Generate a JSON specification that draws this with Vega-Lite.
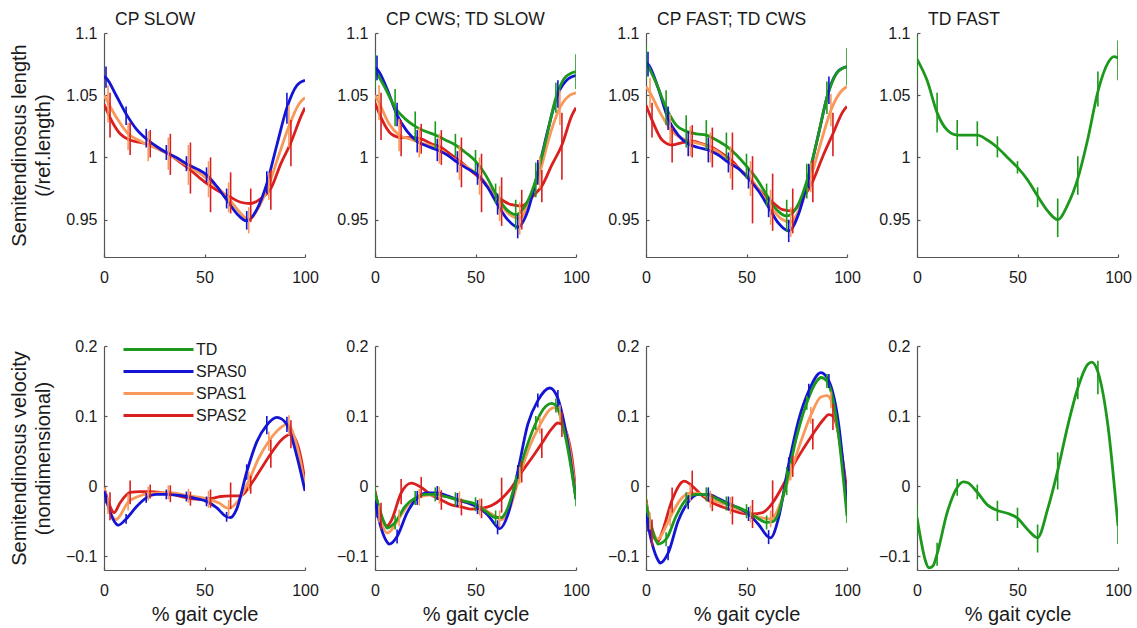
{
"$schema": "https://vega.github.io/schema/vega-lite/v6.json",
"padding": {"left": 9, "top": 10, "right": 5, "bottom": 5},
"datasets": {"d": [
{"p":"P1","s":"SPAS2","x":0,"y":1.043},{"p":"P1","s":"SPAS2","x":3,"y":1.032,"lo":1.016,"hi":1.052},{"p":"P1","s":"SPAS2","x":8,"y":1.019},{"p":"P1","s":"SPAS2","x":13,"y":1.014,"lo":1.002,"hi":1.028},{"p":"P1","s":"SPAS2","x":18,"y":1.012},{"p":"P1","s":"SPAS2","x":23,"y":1.010,"lo":1.000,"hi":1.022},{"p":"P1","s":"SPAS2","x":28,"y":1.006},{"p":"P1","s":"SPAS2","x":33,"y":1.002,"lo":0.986,"hi":1.019},{"p":"P1","s":"SPAS2","x":38,"y":0.996},{"p":"P1","s":"SPAS2","x":43,"y":0.990,"lo":0.971,"hi":1.012},{"p":"P1","s":"SPAS2","x":48,"y":0.983},{"p":"P1","s":"SPAS2","x":53,"y":0.977,"lo":0.956,"hi":1.000},{"p":"P1","s":"SPAS2","x":58,"y":0.972},{"p":"P1","s":"SPAS2","x":63,"y":0.968,"lo":0.955,"hi":0.988},{"p":"P1","s":"SPAS2","x":68,"y":0.964},{"p":"P1","s":"SPAS2","x":73,"y":0.963,"lo":0.948,"hi":0.975},{"p":"P1","s":"SPAS2","x":78,"y":0.967},{"p":"P1","s":"SPAS2","x":83,"y":0.975,"lo":0.958,"hi":0.990},{"p":"P1","s":"SPAS2","x":88,"y":0.995},{"p":"P1","s":"SPAS2","x":93,"y":1.012,"lo":0.993,"hi":1.030},{"p":"P1","s":"SPAS2","x":98,"y":1.033},{"p":"P1","s":"SPAS2","x":100,"y":1.040},
{"p":"P1","s":"SPAS1","x":0,"y":1.050},{"p":"P1","s":"SPAS1","x":2,"y":1.044,"lo":1.028,"hi":1.058},{"p":"P1","s":"SPAS1","x":7,"y":1.030},{"p":"P1","s":"SPAS1","x":12,"y":1.019,"lo":1.006,"hi":1.028},{"p":"P1","s":"SPAS1","x":17,"y":1.014},{"p":"P1","s":"SPAS1","x":22,"y":1.010,"lo":0.997,"hi":1.021},{"p":"P1","s":"SPAS1","x":27,"y":1.007},{"p":"P1","s":"SPAS1","x":32,"y":1.003,"lo":0.990,"hi":1.016},{"p":"P1","s":"SPAS1","x":37,"y":0.998},{"p":"P1","s":"SPAS1","x":42,"y":0.993,"lo":0.978,"hi":1.010},{"p":"P1","s":"SPAS1","x":47,"y":0.988},{"p":"P1","s":"SPAS1","x":52,"y":0.982,"lo":0.968,"hi":0.997},{"p":"P1","s":"SPAS1","x":57,"y":0.975},{"p":"P1","s":"SPAS1","x":62,"y":0.967,"lo":0.956,"hi":0.980},{"p":"P1","s":"SPAS1","x":67,"y":0.957},{"p":"P1","s":"SPAS1","x":72,"y":0.950,"lo":0.939,"hi":0.960},{"p":"P1","s":"SPAS1","x":77,"y":0.960},{"p":"P1","s":"SPAS1","x":82,"y":0.978,"lo":0.966,"hi":0.988},{"p":"P1","s":"SPAS1","x":87,"y":1.002},{"p":"P1","s":"SPAS1","x":92,"y":1.025,"lo":1.008,"hi":1.042},{"p":"P1","s":"SPAS1","x":97,"y":1.043},{"p":"P1","s":"SPAS1","x":100,"y":1.048},
{"p":"P1","s":"SPAS0","x":0,"y":1.065},{"p":"P1","s":"SPAS0","x":1,"y":1.064,"lo":1.056,"hi":1.073},{"p":"P1","s":"SPAS0","x":6,"y":1.050},{"p":"P1","s":"SPAS0","x":11,"y":1.035,"lo":1.026,"hi":1.041},{"p":"P1","s":"SPAS0","x":16,"y":1.023},{"p":"P1","s":"SPAS0","x":21,"y":1.015,"lo":1.008,"hi":1.023},{"p":"P1","s":"SPAS0","x":26,"y":1.009},{"p":"P1","s":"SPAS0","x":31,"y":1.004,"lo":0.998,"hi":1.010},{"p":"P1","s":"SPAS0","x":36,"y":1.000},{"p":"P1","s":"SPAS0","x":41,"y":0.995,"lo":0.989,"hi":1.001},{"p":"P1","s":"SPAS0","x":46,"y":0.991},{"p":"P1","s":"SPAS0","x":51,"y":0.986,"lo":0.980,"hi":0.992},{"p":"P1","s":"SPAS0","x":56,"y":0.977},{"p":"P1","s":"SPAS0","x":61,"y":0.966,"lo":0.959,"hi":0.975},{"p":"P1","s":"SPAS0","x":66,"y":0.955},{"p":"P1","s":"SPAS0","x":71,"y":0.949,"lo":0.942,"hi":0.957},{"p":"P1","s":"SPAS0","x":76,"y":0.958},{"p":"P1","s":"SPAS0","x":81,"y":0.979,"lo":0.971,"hi":0.989},{"p":"P1","s":"SPAS0","x":86,"y":1.010},{"p":"P1","s":"SPAS0","x":91,"y":1.040,"lo":1.027,"hi":1.052},{"p":"P1","s":"SPAS0","x":96,"y":1.058},{"p":"P1","s":"SPAS0","x":100,"y":1.062},
{"p":"P2","s":"SPAS2","x":0,"y":1.044},{"p":"P2","s":"SPAS2","x":3,"y":1.032,"lo":1.014,"hi":1.052},{"p":"P2","s":"SPAS2","x":8,"y":1.019},{"p":"P2","s":"SPAS2","x":13,"y":1.016,"lo":1.001,"hi":1.030},{"p":"P2","s":"SPAS2","x":18,"y":1.016},{"p":"P2","s":"SPAS2","x":23,"y":1.015,"lo":1.003,"hi":1.027},{"p":"P2","s":"SPAS2","x":28,"y":1.011},{"p":"P2","s":"SPAS2","x":33,"y":1.008,"lo":0.994,"hi":1.022},{"p":"P2","s":"SPAS2","x":38,"y":1.002},{"p":"P2","s":"SPAS2","x":43,"y":0.996,"lo":0.976,"hi":1.016},{"p":"P2","s":"SPAS2","x":48,"y":0.989},{"p":"P2","s":"SPAS2","x":53,"y":0.982,"lo":0.956,"hi":1.003},{"p":"P2","s":"SPAS2","x":58,"y":0.973},{"p":"P2","s":"SPAS2","x":63,"y":0.966,"lo":0.945,"hi":0.984},{"p":"P2","s":"SPAS2","x":68,"y":0.962},{"p":"P2","s":"SPAS2","x":73,"y":0.961,"lo":0.942,"hi":0.974},{"p":"P2","s":"SPAS2","x":78,"y":0.968},{"p":"P2","s":"SPAS2","x":83,"y":0.977,"lo":0.964,"hi":0.990},{"p":"P2","s":"SPAS2","x":88,"y":0.994},{"p":"P2","s":"SPAS2","x":93,"y":1.010,"lo":0.982,"hi":1.036},{"p":"P2","s":"SPAS2","x":98,"y":1.034},{"p":"P2","s":"SPAS2","x":100,"y":1.040},
{"p":"P2","s":"SPAS1","x":0,"y":1.050},{"p":"P2","s":"SPAS1","x":2,"y":1.044,"lo":1.030,"hi":1.058},{"p":"P2","s":"SPAS1","x":7,"y":1.027},{"p":"P2","s":"SPAS1","x":12,"y":1.018,"lo":1.005,"hi":1.031},{"p":"P2","s":"SPAS1","x":17,"y":1.015},{"p":"P2","s":"SPAS1","x":22,"y":1.012,"lo":1.000,"hi":1.024},{"p":"P2","s":"SPAS1","x":27,"y":1.010},{"p":"P2","s":"SPAS1","x":32,"y":1.007,"lo":0.995,"hi":1.019},{"p":"P2","s":"SPAS1","x":37,"y":1.001},{"p":"P2","s":"SPAS1","x":42,"y":0.996,"lo":0.982,"hi":1.010},{"p":"P2","s":"SPAS1","x":47,"y":0.991},{"p":"P2","s":"SPAS1","x":52,"y":0.985,"lo":0.970,"hi":1.000},{"p":"P2","s":"SPAS1","x":57,"y":0.975},{"p":"P2","s":"SPAS1","x":62,"y":0.963,"lo":0.949,"hi":0.977},{"p":"P2","s":"SPAS1","x":67,"y":0.954},{"p":"P2","s":"SPAS1","x":72,"y":0.951,"lo":0.938,"hi":0.964},{"p":"P2","s":"SPAS1","x":77,"y":0.966},{"p":"P2","s":"SPAS1","x":82,"y":0.988,"lo":0.975,"hi":1.001},{"p":"P2","s":"SPAS1","x":87,"y":1.018},{"p":"P2","s":"SPAS1","x":92,"y":1.040,"lo":1.026,"hi":1.054},{"p":"P2","s":"SPAS1","x":97,"y":1.050},{"p":"P2","s":"SPAS1","x":100,"y":1.052},
{"p":"P2","s":"SPAS0","x":0,"y":1.072},{"p":"P2","s":"SPAS0","x":1,"y":1.071,"lo":1.062,"hi":1.082},{"p":"P2","s":"SPAS0","x":6,"y":1.055},{"p":"P2","s":"SPAS0","x":11,"y":1.034,"lo":1.025,"hi":1.044},{"p":"P2","s":"SPAS0","x":16,"y":1.021},{"p":"P2","s":"SPAS0","x":21,"y":1.013,"lo":1.004,"hi":1.022},{"p":"P2","s":"SPAS0","x":26,"y":1.009},{"p":"P2","s":"SPAS0","x":31,"y":1.006,"lo":0.997,"hi":1.015},{"p":"P2","s":"SPAS0","x":36,"y":1.002},{"p":"P2","s":"SPAS0","x":41,"y":0.996,"lo":0.988,"hi":1.005},{"p":"P2","s":"SPAS0","x":46,"y":0.991},{"p":"P2","s":"SPAS0","x":51,"y":0.986,"lo":0.978,"hi":0.995},{"p":"P2","s":"SPAS0","x":56,"y":0.976},{"p":"P2","s":"SPAS0","x":61,"y":0.962,"lo":0.954,"hi":0.971},{"p":"P2","s":"SPAS0","x":66,"y":0.950},{"p":"P2","s":"SPAS0","x":71,"y":0.944,"lo":0.935,"hi":0.954},{"p":"P2","s":"SPAS0","x":76,"y":0.957},{"p":"P2","s":"SPAS0","x":81,"y":0.988,"lo":0.978,"hi":0.998},{"p":"P2","s":"SPAS0","x":86,"y":1.022},{"p":"P2","s":"SPAS0","x":91,"y":1.051,"lo":1.040,"hi":1.062},{"p":"P2","s":"SPAS0","x":96,"y":1.063},{"p":"P2","s":"SPAS0","x":100,"y":1.066},
{"p":"P2","s":"TD","x":0,"y":1.070,"lo":1.056,"hi":1.084},{"p":"P2","s":"TD","x":5,"y":1.056},{"p":"P2","s":"TD","x":10,"y":1.040,"lo":1.025,"hi":1.055},{"p":"P2","s":"TD","x":15,"y":1.031},{"p":"P2","s":"TD","x":20,"y":1.025,"lo":1.013,"hi":1.037},{"p":"P2","s":"TD","x":25,"y":1.021},{"p":"P2","s":"TD","x":30,"y":1.018,"lo":1.007,"hi":1.029},{"p":"P2","s":"TD","x":35,"y":1.014},{"p":"P2","s":"TD","x":40,"y":1.010,"lo":1.001,"hi":1.019},{"p":"P2","s":"TD","x":45,"y":1.004},{"p":"P2","s":"TD","x":50,"y":0.997,"lo":0.988,"hi":1.006},{"p":"P2","s":"TD","x":55,"y":0.986},{"p":"P2","s":"TD","x":60,"y":0.971,"lo":0.963,"hi":0.979},{"p":"P2","s":"TD","x":65,"y":0.959},{"p":"P2","s":"TD","x":70,"y":0.954,"lo":0.942,"hi":0.966},{"p":"P2","s":"TD","x":75,"y":0.962},{"p":"P2","s":"TD","x":80,"y":0.982,"lo":0.968,"hi":0.996},{"p":"P2","s":"TD","x":85,"y":1.014},{"p":"P2","s":"TD","x":90,"y":1.048,"lo":1.036,"hi":1.060},{"p":"P2","s":"TD","x":95,"y":1.065},{"p":"P2","s":"TD","x":100,"y":1.069,"lo":1.055,"hi":1.083},
{"p":"P3","s":"SPAS2","x":0,"y":1.042},{"p":"P3","s":"SPAS2","x":3,"y":1.030,"lo":1.016,"hi":1.044},{"p":"P3","s":"SPAS2","x":8,"y":1.014},{"p":"P3","s":"SPAS2","x":13,"y":1.010,"lo":0.996,"hi":1.024},{"p":"P3","s":"SPAS2","x":18,"y":1.012},{"p":"P3","s":"SPAS2","x":23,"y":1.013,"lo":1.000,"hi":1.026},{"p":"P3","s":"SPAS2","x":28,"y":1.011},{"p":"P3","s":"SPAS2","x":33,"y":1.008,"lo":0.992,"hi":1.024},{"p":"P3","s":"SPAS2","x":38,"y":1.003},{"p":"P3","s":"SPAS2","x":43,"y":0.997,"lo":0.974,"hi":1.020},{"p":"P3","s":"SPAS2","x":48,"y":0.988},{"p":"P3","s":"SPAS2","x":53,"y":0.980,"lo":0.947,"hi":1.001},{"p":"P3","s":"SPAS2","x":58,"y":0.971},{"p":"P3","s":"SPAS2","x":63,"y":0.964,"lo":0.941,"hi":0.987},{"p":"P3","s":"SPAS2","x":68,"y":0.958},{"p":"P3","s":"SPAS2","x":73,"y":0.957,"lo":0.939,"hi":0.975},{"p":"P3","s":"SPAS2","x":78,"y":0.967},{"p":"P3","s":"SPAS2","x":83,"y":0.981,"lo":0.964,"hi":0.998},{"p":"P3","s":"SPAS2","x":88,"y":1.001},{"p":"P3","s":"SPAS2","x":93,"y":1.019,"lo":1.001,"hi":1.036},{"p":"P3","s":"SPAS2","x":98,"y":1.037},{"p":"P3","s":"SPAS2","x":100,"y":1.041},
{"p":"P3","s":"SPAS1","x":0,"y":1.057},{"p":"P3","s":"SPAS1","x":2,"y":1.052,"lo":1.040,"hi":1.064},{"p":"P3","s":"SPAS1","x":7,"y":1.036},{"p":"P3","s":"SPAS1","x":12,"y":1.023,"lo":1.011,"hi":1.035},{"p":"P3","s":"SPAS1","x":17,"y":1.016},{"p":"P3","s":"SPAS1","x":22,"y":1.013,"lo":1.001,"hi":1.025},{"p":"P3","s":"SPAS1","x":27,"y":1.011},{"p":"P3","s":"SPAS1","x":32,"y":1.008,"lo":0.996,"hi":1.020},{"p":"P3","s":"SPAS1","x":37,"y":1.003},{"p":"P3","s":"SPAS1","x":42,"y":0.996,"lo":0.983,"hi":1.009},{"p":"P3","s":"SPAS1","x":47,"y":0.990},{"p":"P3","s":"SPAS1","x":52,"y":0.983,"lo":0.969,"hi":0.997},{"p":"P3","s":"SPAS1","x":57,"y":0.972},{"p":"P3","s":"SPAS1","x":62,"y":0.960,"lo":0.946,"hi":0.974},{"p":"P3","s":"SPAS1","x":67,"y":0.951},{"p":"P3","s":"SPAS1","x":72,"y":0.948,"lo":0.936,"hi":0.960},{"p":"P3","s":"SPAS1","x":77,"y":0.961},{"p":"P3","s":"SPAS1","x":82,"y":0.984,"lo":0.972,"hi":0.996},{"p":"P3","s":"SPAS1","x":87,"y":1.012},{"p":"P3","s":"SPAS1","x":92,"y":1.038,"lo":1.025,"hi":1.051},{"p":"P3","s":"SPAS1","x":97,"y":1.053},{"p":"P3","s":"SPAS1","x":100,"y":1.057},
{"p":"P3","s":"SPAS0","x":0,"y":1.076},{"p":"P3","s":"SPAS0","x":1,"y":1.075,"lo":1.065,"hi":1.085},{"p":"P3","s":"SPAS0","x":6,"y":1.056},{"p":"P3","s":"SPAS0","x":11,"y":1.031,"lo":1.022,"hi":1.041},{"p":"P3","s":"SPAS0","x":16,"y":1.018},{"p":"P3","s":"SPAS0","x":21,"y":1.011,"lo":1.001,"hi":1.021},{"p":"P3","s":"SPAS0","x":26,"y":1.008},{"p":"P3","s":"SPAS0","x":31,"y":1.006,"lo":0.996,"hi":1.016},{"p":"P3","s":"SPAS0","x":36,"y":1.002},{"p":"P3","s":"SPAS0","x":41,"y":0.996,"lo":0.988,"hi":1.004},{"p":"P3","s":"SPAS0","x":46,"y":0.991},{"p":"P3","s":"SPAS0","x":51,"y":0.983,"lo":0.975,"hi":0.991},{"p":"P3","s":"SPAS0","x":56,"y":0.973},{"p":"P3","s":"SPAS0","x":61,"y":0.960,"lo":0.952,"hi":0.968},{"p":"P3","s":"SPAS0","x":66,"y":0.947},{"p":"P3","s":"SPAS0","x":71,"y":0.941,"lo":0.932,"hi":0.950},{"p":"P3","s":"SPAS0","x":76,"y":0.955},{"p":"P3","s":"SPAS0","x":81,"y":0.985,"lo":0.975,"hi":0.995},{"p":"P3","s":"SPAS0","x":86,"y":1.020},{"p":"P3","s":"SPAS0","x":91,"y":1.054,"lo":1.043,"hi":1.065},{"p":"P3","s":"SPAS0","x":96,"y":1.070},{"p":"P3","s":"SPAS0","x":100,"y":1.073},
{"p":"P3","s":"TD","x":0,"y":1.077,"lo":1.063,"hi":1.091},{"p":"P3","s":"TD","x":5,"y":1.060},{"p":"P3","s":"TD","x":10,"y":1.040,"lo":1.026,"hi":1.054},{"p":"P3","s":"TD","x":15,"y":1.026},{"p":"P3","s":"TD","x":20,"y":1.021,"lo":1.008,"hi":1.034},{"p":"P3","s":"TD","x":25,"y":1.019},{"p":"P3","s":"TD","x":30,"y":1.018,"lo":1.006,"hi":1.030},{"p":"P3","s":"TD","x":35,"y":1.014},{"p":"P3","s":"TD","x":40,"y":1.009,"lo":0.998,"hi":1.020},{"p":"P3","s":"TD","x":45,"y":1.002},{"p":"P3","s":"TD","x":50,"y":0.993,"lo":0.983,"hi":1.003},{"p":"P3","s":"TD","x":55,"y":0.983},{"p":"P3","s":"TD","x":60,"y":0.970,"lo":0.961,"hi":0.979},{"p":"P3","s":"TD","x":65,"y":0.958},{"p":"P3","s":"TD","x":70,"y":0.953,"lo":0.940,"hi":0.966},{"p":"P3","s":"TD","x":75,"y":0.960},{"p":"P3","s":"TD","x":80,"y":0.981,"lo":0.967,"hi":0.995},{"p":"P3","s":"TD","x":85,"y":1.013},{"p":"P3","s":"TD","x":90,"y":1.048,"lo":1.035,"hi":1.061},{"p":"P3","s":"TD","x":95,"y":1.068},{"p":"P3","s":"TD","x":100,"y":1.073,"lo":1.058,"hi":1.088},
{"p":"P4","s":"TD","x":0,"y":1.079,"lo":1.062,"hi":1.097},{"p":"P4","s":"TD","x":5,"y":1.062},{"p":"P4","s":"TD","x":10,"y":1.036,"lo":1.020,"hi":1.052},{"p":"P4","s":"TD","x":15,"y":1.022},{"p":"P4","s":"TD","x":20,"y":1.018,"lo":1.006,"hi":1.030},{"p":"P4","s":"TD","x":25,"y":1.018},{"p":"P4","s":"TD","x":30,"y":1.018,"lo":1.009,"hi":1.029},{"p":"P4","s":"TD","x":35,"y":1.014},{"p":"P4","s":"TD","x":40,"y":1.008,"lo":1.000,"hi":1.017},{"p":"P4","s":"TD","x":45,"y":1.000},{"p":"P4","s":"TD","x":50,"y":0.992,"lo":0.987,"hi":0.997},{"p":"P4","s":"TD","x":55,"y":0.982},{"p":"P4","s":"TD","x":60,"y":0.969,"lo":0.960,"hi":0.976},{"p":"P4","s":"TD","x":65,"y":0.957},{"p":"P4","s":"TD","x":70,"y":0.950,"lo":0.936,"hi":0.967},{"p":"P4","s":"TD","x":75,"y":0.962},{"p":"P4","s":"TD","x":80,"y":0.983,"lo":0.970,"hi":1.001},{"p":"P4","s":"TD","x":85,"y":1.015},{"p":"P4","s":"TD","x":90,"y":1.053,"lo":1.041,"hi":1.069},{"p":"P4","s":"TD","x":95,"y":1.076},{"p":"P4","s":"TD","x":98,"y":1.081},{"p":"P4","s":"TD","x":100,"y":1.080,"lo":1.062,"hi":1.094},
{"p":"P5","s":"SPAS2","x":0,"y":-0.002},{"p":"P5","s":"SPAS2","x":3,"y":-0.029,"lo":-0.049,"hi":-0.009},{"p":"P5","s":"SPAS2","x":5,"y":-0.038},{"p":"P5","s":"SPAS2","x":8,"y":-0.024},{"p":"P5","s":"SPAS2","x":13,"y":-0.009,"lo":-0.026,"hi":0.008},{"p":"P5","s":"SPAS2","x":18,"y":-0.008},{"p":"P5","s":"SPAS2","x":23,"y":-0.008,"lo":-0.018,"hi":0.002},{"p":"P5","s":"SPAS2","x":28,"y":-0.009},{"p":"P5","s":"SPAS2","x":33,"y":-0.011,"lo":-0.023,"hi":0.001},{"p":"P5","s":"SPAS2","x":38,"y":-0.015},{"p":"P5","s":"SPAS2","x":43,"y":-0.018,"lo":-0.028,"hi":-0.008},{"p":"P5","s":"SPAS2","x":48,"y":-0.019},{"p":"P5","s":"SPAS2","x":53,"y":-0.018,"lo":-0.031,"hi":-0.005},{"p":"P5","s":"SPAS2","x":58,"y":-0.015},{"p":"P5","s":"SPAS2","x":63,"y":-0.014,"lo":-0.033,"hi":0.005},{"p":"P5","s":"SPAS2","x":68,"y":-0.014},{"p":"P5","s":"SPAS2","x":73,"y":0.002,"lo":-0.011,"hi":0.015},{"p":"P5","s":"SPAS2","x":78,"y":0.024},{"p":"P5","s":"SPAS2","x":83,"y":0.046,"lo":0.026,"hi":0.066},{"p":"P5","s":"SPAS2","x":88,"y":0.065},{"p":"P5","s":"SPAS2","x":93,"y":0.074,"lo":0.054,"hi":0.094},{"p":"P5","s":"SPAS2","x":98,"y":0.040},{"p":"P5","s":"SPAS2","x":100,"y":0.007},
{"p":"P5","s":"SPAS1","x":0,"y":-0.002},{"p":"P5","s":"SPAS1","x":2,"y":-0.028,"lo":-0.040,"hi":-0.016},{"p":"P5","s":"SPAS1","x":6,"y":-0.048},{"p":"P5","s":"SPAS1","x":7,"y":-0.046},{"p":"P5","s":"SPAS1","x":12,"y":-0.023,"lo":-0.035,"hi":-0.011},{"p":"P5","s":"SPAS1","x":17,"y":-0.015},{"p":"P5","s":"SPAS1","x":22,"y":-0.011,"lo":-0.021,"hi":-0.001},{"p":"P5","s":"SPAS1","x":27,"y":-0.010},{"p":"P5","s":"SPAS1","x":32,"y":-0.009,"lo":-0.019,"hi":0.001},{"p":"P5","s":"SPAS1","x":37,"y":-0.011},{"p":"P5","s":"SPAS1","x":42,"y":-0.014,"lo":-0.024,"hi":-0.004},{"p":"P5","s":"SPAS1","x":47,"y":-0.016},{"p":"P5","s":"SPAS1","x":52,"y":-0.019,"lo":-0.031,"hi":-0.007},{"p":"P5","s":"SPAS1","x":57,"y":-0.024},{"p":"P5","s":"SPAS1","x":62,"y":-0.032,"lo":-0.044,"hi":-0.020},{"p":"P5","s":"SPAS1","x":67,"y":-0.020},{"p":"P5","s":"SPAS1","x":72,"y":0.007,"lo":-0.007,"hi":0.021},{"p":"P5","s":"SPAS1","x":77,"y":0.040},{"p":"P5","s":"SPAS1","x":82,"y":0.064,"lo":0.050,"hi":0.078},{"p":"P5","s":"SPAS1","x":87,"y":0.081},{"p":"P5","s":"SPAS1","x":91,"y":0.088},{"p":"P5","s":"SPAS1","x":92,"y":0.087,"lo":0.073,"hi":0.101},{"p":"P5","s":"SPAS1","x":97,"y":0.045},{"p":"P5","s":"SPAS1","x":100,"y":0.000},
{"p":"P5","s":"SPAS0","x":0,"y":-0.007},{"p":"P5","s":"SPAS0","x":1,"y":-0.018,"lo":-0.025,"hi":-0.011},{"p":"P5","s":"SPAS0","x":6,"y":-0.054},{"p":"P5","s":"SPAS0","x":7,"y":-0.056},{"p":"P5","s":"SPAS0","x":11,"y":-0.047,"lo":-0.054,"hi":-0.040},{"p":"P5","s":"SPAS0","x":16,"y":-0.030},{"p":"P5","s":"SPAS0","x":21,"y":-0.017,"lo":-0.024,"hi":-0.010},{"p":"P5","s":"SPAS0","x":26,"y":-0.012},{"p":"P5","s":"SPAS0","x":31,"y":-0.012,"lo":-0.019,"hi":-0.005},{"p":"P5","s":"SPAS0","x":36,"y":-0.013},{"p":"P5","s":"SPAS0","x":41,"y":-0.015,"lo":-0.022,"hi":-0.008},{"p":"P5","s":"SPAS0","x":46,"y":-0.018},{"p":"P5","s":"SPAS0","x":51,"y":-0.022,"lo":-0.029,"hi":-0.015},{"p":"P5","s":"SPAS0","x":56,"y":-0.031},{"p":"P5","s":"SPAS0","x":61,"y":-0.044,"lo":-0.051,"hi":-0.037},{"p":"P5","s":"SPAS0","x":63,"y":-0.045},{"p":"P5","s":"SPAS0","x":66,"y":-0.033},{"p":"P5","s":"SPAS0","x":71,"y":0.020,"lo":0.009,"hi":0.031},{"p":"P5","s":"SPAS0","x":76,"y":0.063},{"p":"P5","s":"SPAS0","x":81,"y":0.087,"lo":0.074,"hi":0.100},{"p":"P5","s":"SPAS0","x":86,"y":0.098},{"p":"P5","s":"SPAS0","x":91,"y":0.088,"lo":0.077,"hi":0.099},{"p":"P5","s":"SPAS0","x":96,"y":0.042},{"p":"P5","s":"SPAS0","x":100,"y":-0.007},
{"p":"P6","s":"SPAS2","x":0,"y":-0.007},{"p":"P6","s":"SPAS2","x":3,"y":-0.043,"lo":-0.062,"hi":-0.024},{"p":"P6","s":"SPAS2","x":6,"y":-0.057},{"p":"P6","s":"SPAS2","x":8,"y":-0.050},{"p":"P6","s":"SPAS2","x":13,"y":-0.010,"lo":-0.026,"hi":0.010},{"p":"P6","s":"SPAS2","x":18,"y":0.004},{"p":"P6","s":"SPAS2","x":23,"y":-0.002,"lo":-0.017,"hi":0.013},{"p":"P6","s":"SPAS2","x":28,"y":-0.013},{"p":"P6","s":"SPAS2","x":33,"y":-0.020,"lo":-0.034,"hi":-0.006},{"p":"P6","s":"SPAS2","x":38,"y":-0.027},{"p":"P6","s":"SPAS2","x":43,"y":-0.030,"lo":-0.042,"hi":-0.018},{"p":"P6","s":"SPAS2","x":48,"y":-0.033},{"p":"P6","s":"SPAS2","x":53,"y":-0.032,"lo":-0.046,"hi":-0.018},{"p":"P6","s":"SPAS2","x":58,"y":-0.028},{"p":"P6","s":"SPAS2","x":63,"y":-0.018,"lo":-0.038,"hi":0.012},{"p":"P6","s":"SPAS2","x":68,"y":-0.002},{"p":"P6","s":"SPAS2","x":73,"y":0.020,"lo":0.005,"hi":0.035},{"p":"P6","s":"SPAS2","x":78,"y":0.040},{"p":"P6","s":"SPAS2","x":83,"y":0.061,"lo":0.040,"hi":0.082},{"p":"P6","s":"SPAS2","x":88,"y":0.082},{"p":"P6","s":"SPAS2","x":91,"y":0.090},{"p":"P6","s":"SPAS2","x":93,"y":0.088,"lo":0.070,"hi":0.106},{"p":"P6","s":"SPAS2","x":98,"y":0.040},{"p":"P6","s":"SPAS2","x":100,"y":-0.014},
{"p":"P6","s":"SPAS1","x":0,"y":-0.014},{"p":"P6","s":"SPAS1","x":2,"y":-0.040,"lo":-0.052,"hi":-0.028},{"p":"P6","s":"SPAS1","x":6,"y":-0.067},{"p":"P6","s":"SPAS1","x":7,"y":-0.066},{"p":"P6","s":"SPAS1","x":12,"y":-0.046,"lo":-0.058,"hi":-0.034},{"p":"P6","s":"SPAS1","x":17,"y":-0.025},{"p":"P6","s":"SPAS1","x":22,"y":-0.016,"lo":-0.028,"hi":-0.004},{"p":"P6","s":"SPAS1","x":27,"y":-0.013},{"p":"P6","s":"SPAS1","x":32,"y":-0.013,"lo":-0.025,"hi":-0.001},{"p":"P6","s":"SPAS1","x":37,"y":-0.016},{"p":"P6","s":"SPAS1","x":42,"y":-0.020,"lo":-0.032,"hi":-0.008},{"p":"P6","s":"SPAS1","x":47,"y":-0.025},{"p":"P6","s":"SPAS1","x":52,"y":-0.030,"lo":-0.042,"hi":-0.018},{"p":"P6","s":"SPAS1","x":57,"y":-0.038},{"p":"P6","s":"SPAS1","x":62,"y":-0.047,"lo":-0.059,"hi":-0.035},{"p":"P6","s":"SPAS1","x":63,"y":-0.048},{"p":"P6","s":"SPAS1","x":67,"y":-0.033},{"p":"P6","s":"SPAS1","x":72,"y":0.015,"lo":0.003,"hi":0.027},{"p":"P6","s":"SPAS1","x":77,"y":0.057},{"p":"P6","s":"SPAS1","x":82,"y":0.087,"lo":0.075,"hi":0.099},{"p":"P6","s":"SPAS1","x":87,"y":0.109},{"p":"P6","s":"SPAS1","x":89,"y":0.112},{"p":"P6","s":"SPAS1","x":92,"y":0.104,"lo":0.092,"hi":0.116},{"p":"P6","s":"SPAS1","x":97,"y":0.050},{"p":"P6","s":"SPAS1","x":100,"y":-0.014},
{"p":"P6","s":"SPAS0","x":0,"y":-0.019},{"p":"P6","s":"SPAS0","x":1,"y":-0.035,"lo":-0.045,"hi":-0.025},{"p":"P6","s":"SPAS0","x":6,"y":-0.080},{"p":"P6","s":"SPAS0","x":7,"y":-0.083},{"p":"P6","s":"SPAS0","x":11,"y":-0.072,"lo":-0.082,"hi":-0.062},{"p":"P6","s":"SPAS0","x":16,"y":-0.038},{"p":"P6","s":"SPAS0","x":21,"y":-0.017,"lo":-0.027,"hi":-0.007},{"p":"P6","s":"SPAS0","x":26,"y":-0.010},{"p":"P6","s":"SPAS0","x":31,"y":-0.010,"lo":-0.020,"hi":0.000},{"p":"P6","s":"SPAS0","x":36,"y":-0.014},{"p":"P6","s":"SPAS0","x":41,"y":-0.020,"lo":-0.030,"hi":-0.010},{"p":"P6","s":"SPAS0","x":46,"y":-0.024},{"p":"P6","s":"SPAS0","x":51,"y":-0.030,"lo":-0.040,"hi":-0.020},{"p":"P6","s":"SPAS0","x":56,"y":-0.041},{"p":"P6","s":"SPAS0","x":61,"y":-0.059,"lo":-0.069,"hi":-0.049},{"p":"P6","s":"SPAS0","x":62,"y":-0.061},{"p":"P6","s":"SPAS0","x":66,"y":-0.042},{"p":"P6","s":"SPAS0","x":71,"y":0.020,"lo":0.010,"hi":0.030},{"p":"P6","s":"SPAS0","x":76,"y":0.088},{"p":"P6","s":"SPAS0","x":81,"y":0.122,"lo":0.112,"hi":0.132},{"p":"P6","s":"SPAS0","x":87,"y":0.140},{"p":"P6","s":"SPAS0","x":91,"y":0.125,"lo":0.113,"hi":0.137},{"p":"P6","s":"SPAS0","x":96,"y":0.060},{"p":"P6","s":"SPAS0","x":100,"y":-0.019},
{"p":"P6","s":"TD","x":0,"y":-0.010,"lo":-0.020,"hi":0.000},{"p":"P6","s":"TD","x":5,"y":-0.055},{"p":"P6","s":"TD","x":6,"y":-0.060},{"p":"P6","s":"TD","x":10,"y":-0.052,"lo":-0.062,"hi":-0.042},{"p":"P6","s":"TD","x":15,"y":-0.029},{"p":"P6","s":"TD","x":20,"y":-0.017,"lo":-0.027,"hi":-0.007},{"p":"P6","s":"TD","x":25,"y":-0.012},{"p":"P6","s":"TD","x":30,"y":-0.012,"lo":-0.022,"hi":-0.002},{"p":"P6","s":"TD","x":35,"y":-0.015},{"p":"P6","s":"TD","x":40,"y":-0.019,"lo":-0.029,"hi":-0.009},{"p":"P6","s":"TD","x":45,"y":-0.022},{"p":"P6","s":"TD","x":50,"y":-0.026,"lo":-0.036,"hi":-0.016},{"p":"P6","s":"TD","x":55,"y":-0.036},{"p":"P6","s":"TD","x":60,"y":-0.045,"lo":-0.055,"hi":-0.035},{"p":"P6","s":"TD","x":63,"y":-0.045},{"p":"P6","s":"TD","x":65,"y":-0.038},{"p":"P6","s":"TD","x":70,"y":0.005,"lo":-0.005,"hi":0.015},{"p":"P6","s":"TD","x":75,"y":0.052},{"p":"P6","s":"TD","x":80,"y":0.090,"lo":0.080,"hi":0.100},{"p":"P6","s":"TD","x":85,"y":0.114},{"p":"P6","s":"TD","x":88,"y":0.118},{"p":"P6","s":"TD","x":90,"y":0.115,"lo":0.105,"hi":0.125},{"p":"P6","s":"TD","x":95,"y":0.067},{"p":"P6","s":"TD","x":100,"y":-0.019,"lo":-0.029,"hi":-0.009},
{"p":"P7","s":"SPAS2","x":0,"y":-0.019},{"p":"P7","s":"SPAS2","x":3,"y":-0.067,"lo":-0.086,"hi":-0.048},{"p":"P7","s":"SPAS2","x":6,"y":-0.079},{"p":"P7","s":"SPAS2","x":8,"y":-0.066},{"p":"P7","s":"SPAS2","x":13,"y":-0.020,"lo":-0.038,"hi":-0.002},{"p":"P7","s":"SPAS2","x":19,"y":0.007},{"p":"P7","s":"SPAS2","x":23,"y":0.000,"lo":-0.012,"hi":0.022},{"p":"P7","s":"SPAS2","x":28,"y":-0.014},{"p":"P7","s":"SPAS2","x":33,"y":-0.024,"lo":-0.036,"hi":-0.012},{"p":"P7","s":"SPAS2","x":38,"y":-0.030},{"p":"P7","s":"SPAS2","x":43,"y":-0.035,"lo":-0.055,"hi":-0.015},{"p":"P7","s":"SPAS2","x":48,"y":-0.039},{"p":"P7","s":"SPAS2","x":53,"y":-0.040,"lo":-0.060,"hi":-0.020},{"p":"P7","s":"SPAS2","x":58,"y":-0.038},{"p":"P7","s":"SPAS2","x":63,"y":-0.024,"lo":-0.044,"hi":0.008},{"p":"P7","s":"SPAS2","x":68,"y":0.000},{"p":"P7","s":"SPAS2","x":73,"y":0.028,"lo":0.013,"hi":0.043},{"p":"P7","s":"SPAS2","x":78,"y":0.052},{"p":"P7","s":"SPAS2","x":83,"y":0.074,"lo":0.052,"hi":0.096},{"p":"P7","s":"SPAS2","x":88,"y":0.094},{"p":"P7","s":"SPAS2","x":91,"y":0.102},{"p":"P7","s":"SPAS2","x":93,"y":0.100,"lo":0.080,"hi":0.118},{"p":"P7","s":"SPAS2","x":98,"y":0.035},{"p":"P7","s":"SPAS2","x":100,"y":-0.010},
{"p":"P7","s":"SPAS1","x":0,"y":-0.024},{"p":"P7","s":"SPAS1","x":2,"y":-0.050,"lo":-0.062,"hi":-0.038},{"p":"P7","s":"SPAS1","x":6,"y":-0.076},{"p":"P7","s":"SPAS1","x":7,"y":-0.073},{"p":"P7","s":"SPAS1","x":12,"y":-0.045,"lo":-0.057,"hi":-0.033},{"p":"P7","s":"SPAS1","x":17,"y":-0.020},{"p":"P7","s":"SPAS1","x":22,"y":-0.010,"lo":-0.022,"hi":0.002},{"p":"P7","s":"SPAS1","x":27,"y":-0.011},{"p":"P7","s":"SPAS1","x":32,"y":-0.019,"lo":-0.031,"hi":-0.007},{"p":"P7","s":"SPAS1","x":37,"y":-0.024},{"p":"P7","s":"SPAS1","x":42,"y":-0.028,"lo":-0.040,"hi":-0.016},{"p":"P7","s":"SPAS1","x":47,"y":-0.035},{"p":"P7","s":"SPAS1","x":52,"y":-0.040,"lo":-0.052,"hi":-0.028},{"p":"P7","s":"SPAS1","x":57,"y":-0.045},{"p":"P7","s":"SPAS1","x":62,"y":-0.047,"lo":-0.059,"hi":-0.035},{"p":"P7","s":"SPAS1","x":63,"y":-0.046},{"p":"P7","s":"SPAS1","x":67,"y":-0.024},{"p":"P7","s":"SPAS1","x":72,"y":0.020,"lo":0.008,"hi":0.032},{"p":"P7","s":"SPAS1","x":77,"y":0.063},{"p":"P7","s":"SPAS1","x":82,"y":0.101,"lo":0.089,"hi":0.113},{"p":"P7","s":"SPAS1","x":87,"y":0.127},{"p":"P7","s":"SPAS1","x":90,"y":0.129},{"p":"P7","s":"SPAS1","x":92,"y":0.123,"lo":0.111,"hi":0.135},{"p":"P7","s":"SPAS1","x":97,"y":0.050},{"p":"P7","s":"SPAS1","x":100,"y":-0.024},
{"p":"P7","s":"SPAS0","x":0,"y":-0.038},{"p":"P7","s":"SPAS0","x":1,"y":-0.055,"lo":-0.065,"hi":-0.045},{"p":"P7","s":"SPAS0","x":6,"y":-0.106},{"p":"P7","s":"SPAS0","x":7,"y":-0.110},{"p":"P7","s":"SPAS0","x":11,"y":-0.096,"lo":-0.106,"hi":-0.086},{"p":"P7","s":"SPAS0","x":16,"y":-0.050},{"p":"P7","s":"SPAS0","x":21,"y":-0.023,"lo":-0.033,"hi":-0.013},{"p":"P7","s":"SPAS0","x":26,"y":-0.012},{"p":"P7","s":"SPAS0","x":31,"y":-0.012,"lo":-0.022,"hi":-0.002},{"p":"P7","s":"SPAS0","x":36,"y":-0.018},{"p":"P7","s":"SPAS0","x":41,"y":-0.025,"lo":-0.035,"hi":-0.015},{"p":"P7","s":"SPAS0","x":46,"y":-0.031},{"p":"P7","s":"SPAS0","x":51,"y":-0.040,"lo":-0.050,"hi":-0.030},{"p":"P7","s":"SPAS0","x":56,"y":-0.055},{"p":"P7","s":"SPAS0","x":61,"y":-0.073,"lo":-0.083,"hi":-0.063},{"p":"P7","s":"SPAS0","x":62,"y":-0.074},{"p":"P7","s":"SPAS0","x":66,"y":-0.045},{"p":"P7","s":"SPAS0","x":71,"y":0.031,"lo":0.021,"hi":0.041},{"p":"P7","s":"SPAS0","x":76,"y":0.095},{"p":"P7","s":"SPAS0","x":81,"y":0.136,"lo":0.126,"hi":0.146},{"p":"P7","s":"SPAS0","x":87,"y":0.162},{"p":"P7","s":"SPAS0","x":91,"y":0.150,"lo":0.140,"hi":0.160},{"p":"P7","s":"SPAS0","x":96,"y":0.085},{"p":"P7","s":"SPAS0","x":100,"y":-0.029},
{"p":"P7","s":"TD","x":0,"y":-0.026,"lo":-0.036,"hi":-0.016},{"p":"P7","s":"TD","x":5,"y":-0.078},{"p":"P7","s":"TD","x":6,"y":-0.083},{"p":"P7","s":"TD","x":10,"y":-0.076,"lo":-0.086,"hi":-0.066},{"p":"P7","s":"TD","x":15,"y":-0.043},{"p":"P7","s":"TD","x":20,"y":-0.019,"lo":-0.029,"hi":-0.009},{"p":"P7","s":"TD","x":25,"y":-0.012},{"p":"P7","s":"TD","x":30,"y":-0.012,"lo":-0.022,"hi":-0.002},{"p":"P7","s":"TD","x":35,"y":-0.018},{"p":"P7","s":"TD","x":40,"y":-0.025,"lo":-0.035,"hi":-0.015},{"p":"P7","s":"TD","x":45,"y":-0.030},{"p":"P7","s":"TD","x":50,"y":-0.036,"lo":-0.046,"hi":-0.026},{"p":"P7","s":"TD","x":55,"y":-0.045},{"p":"P7","s":"TD","x":60,"y":-0.052,"lo":-0.062,"hi":-0.042},{"p":"P7","s":"TD","x":63,"y":-0.051},{"p":"P7","s":"TD","x":65,"y":-0.045},{"p":"P7","s":"TD","x":70,"y":0.007,"lo":-0.013,"hi":0.027},{"p":"P7","s":"TD","x":75,"y":0.071},{"p":"P7","s":"TD","x":80,"y":0.119,"lo":0.109,"hi":0.129},{"p":"P7","s":"TD","x":85,"y":0.150},{"p":"P7","s":"TD","x":87,"y":0.155},{"p":"P7","s":"TD","x":90,"y":0.150,"lo":0.140,"hi":0.160},{"p":"P7","s":"TD","x":95,"y":0.090},{"p":"P7","s":"TD","x":100,"y":-0.043,"lo":-0.053,"hi":-0.033},
{"p":"P8","s":"TD","x":0,"y":-0.045,"lo":-0.067,"hi":-0.028},{"p":"P8","s":"TD","x":2,"y":-0.078},{"p":"P8","s":"TD","x":4,"y":-0.105},{"p":"P8","s":"TD","x":6,"y":-0.117},{"p":"P8","s":"TD","x":8,"y":-0.114},{"p":"P8","s":"TD","x":10,"y":-0.097,"lo":-0.114,"hi":-0.081},{"p":"P8","s":"TD","x":15,"y":-0.038},{"p":"P8","s":"TD","x":20,"y":-0.002,"lo":-0.014,"hi":0.010},{"p":"P8","s":"TD","x":23,"y":0.006},{"p":"P8","s":"TD","x":25,"y":0.005},{"p":"P8","s":"TD","x":30,"y":-0.009,"lo":-0.019,"hi":0.002},{"p":"P8","s":"TD","x":35,"y":-0.027},{"p":"P8","s":"TD","x":40,"y":-0.035,"lo":-0.050,"hi":-0.021},{"p":"P8","s":"TD","x":45,"y":-0.039},{"p":"P8","s":"TD","x":50,"y":-0.046,"lo":-0.060,"hi":-0.031},{"p":"P8","s":"TD","x":55,"y":-0.062},{"p":"P8","s":"TD","x":60,"y":-0.074,"lo":-0.095,"hi":-0.055},{"p":"P8","s":"TD","x":65,"y":-0.033},{"p":"P8","s":"TD","x":70,"y":0.022,"lo":-0.005,"hi":0.048},{"p":"P8","s":"TD","x":75,"y":0.086},{"p":"P8","s":"TD","x":80,"y":0.140,"lo":0.124,"hi":0.155},{"p":"P8","s":"TD","x":85,"y":0.174},{"p":"P8","s":"TD","x":87,"y":0.177},{"p":"P8","s":"TD","x":90,"y":0.163,"lo":0.131,"hi":0.179},{"p":"P8","s":"TD","x":95,"y":0.086},{"p":"P8","s":"TD","x":100,"y":-0.057,"lo":-0.083,"hi":-0.038}
]},
"data": {"name": "d"},
"columns": 4,
"spacing": {"row": 89, "column": 70},
"bounds": "flush",
"concat": [
{"width":201,"height":224,"title":"CP SLOW","transform":[{"filter":"datum.p=='P1'"}],
 "encoding":{"x":{"field":"x","type":"quantitative","scale":{"domain":[0,100],"nice":false},"axis":{"values":[0,50,100],"title":null}},
  "color":{"field":"s","type":"nominal","scale":{"domain":["TD","SPAS0","SPAS1","SPAS2"],"range":["#1c991c","#1414d4","#f8985a","#da1f1f"]}}},
 "layer":[
  {"mark":{"type":"line","interpolate":"monotone","strokeWidth":2.8,"clip":true},"encoding":{"y":{"field":"y","type":"quantitative","scale":{"domain":[0.92,1.1],"nice":false},"axis":{"values":[0.95,1,1.05,1.1],"format":"~g","title":["Semitendinosus length","(/ref.length)"]}}}},
  {"transform":[{"filter":"isValid(datum.lo)"}],"mark":{"type":"rule","strokeWidth":1.6,"clip":true},"encoding":{"y":{"field":"lo","type":"quantitative","axis":{"values":[0.95,1,1.05,1.1],"format":"~g","title":["Semitendinosus length","(/ref.length)"]}},"y2":{"field":"hi"}}}
 ]},
{"width":201,"height":224,"title":"CP CWS; TD SLOW","transform":[{"filter":"datum.p=='P2'"}],
 "encoding":{"x":{"field":"x","type":"quantitative","scale":{"domain":[0,100],"nice":false},"axis":{"values":[0,50,100],"title":null}},
  "color":{"field":"s","type":"nominal","scale":{"domain":["TD","SPAS0","SPAS1","SPAS2"],"range":["#1c991c","#1414d4","#f8985a","#da1f1f"]}}},
 "layer":[
  {"mark":{"type":"line","interpolate":"monotone","strokeWidth":2.8,"clip":true},"encoding":{"y":{"field":"y","type":"quantitative","scale":{"domain":[0.92,1.1],"nice":false},"axis":{"values":[0.95,1,1.05,1.1],"format":"~g","title":null}}}},
  {"transform":[{"filter":"isValid(datum.lo)"}],"mark":{"type":"rule","strokeWidth":1.6,"clip":true},"encoding":{"y":{"field":"lo","type":"quantitative","axis":{"values":[0.95,1,1.05,1.1],"format":"~g","title":null}},"y2":{"field":"hi"}}}
 ]},
{"width":201,"height":224,"title":"CP FAST; TD CWS","transform":[{"filter":"datum.p=='P3'"}],
 "encoding":{"x":{"field":"x","type":"quantitative","scale":{"domain":[0,100],"nice":false},"axis":{"values":[0,50,100],"title":null}},
  "color":{"field":"s","type":"nominal","scale":{"domain":["TD","SPAS0","SPAS1","SPAS2"],"range":["#1c991c","#1414d4","#f8985a","#da1f1f"]}}},
 "layer":[
  {"mark":{"type":"line","interpolate":"monotone","strokeWidth":2.8,"clip":true},"encoding":{"y":{"field":"y","type":"quantitative","scale":{"domain":[0.92,1.1],"nice":false},"axis":{"values":[0.95,1,1.05,1.1],"format":"~g","title":null}}}},
  {"transform":[{"filter":"isValid(datum.lo)"}],"mark":{"type":"rule","strokeWidth":1.6,"clip":true},"encoding":{"y":{"field":"lo","type":"quantitative","axis":{"values":[0.95,1,1.05,1.1],"format":"~g","title":null}},"y2":{"field":"hi"}}}
 ]},
{"width":201,"height":224,"title":"TD FAST","transform":[{"filter":"datum.p=='P4'"}],
 "encoding":{"x":{"field":"x","type":"quantitative","scale":{"domain":[0,100],"nice":false},"axis":{"values":[0,50,100],"title":null}},
  "color":{"field":"s","type":"nominal","scale":{"domain":["TD","SPAS0","SPAS1","SPAS2"],"range":["#1c991c","#1414d4","#f8985a","#da1f1f"]}}},
 "layer":[
  {"mark":{"type":"line","interpolate":"monotone","strokeWidth":2.8,"clip":true},"encoding":{"y":{"field":"y","type":"quantitative","scale":{"domain":[0.92,1.1],"nice":false},"axis":{"values":[0.95,1,1.05,1.1],"format":"~g","title":null}}}},
  {"transform":[{"filter":"isValid(datum.lo)"}],"mark":{"type":"rule","strokeWidth":1.6,"clip":true},"encoding":{"y":{"field":"lo","type":"quantitative","axis":{"values":[0.95,1,1.05,1.1],"format":"~g","title":null}},"y2":{"field":"hi"}}}
 ]},
{"width":201,"height":224,"transform":[{"filter":"datum.p=='P5'"}],
 "encoding":{"x":{"field":"x","type":"quantitative","scale":{"domain":[0,100],"nice":false},"axis":{"values":[0,50,100],"title":"% gait cycle"}},
  "color":{"field":"s","type":"nominal","scale":{"domain":["TD","SPAS0","SPAS1","SPAS2"],"range":["#1c991c","#1414d4","#f8985a","#da1f1f"]}}},
 "layer":[
  {"mark":{"type":"line","interpolate":"monotone","strokeWidth":2.8,"clip":true},"encoding":{"y":{"field":"y","type":"quantitative","scale":{"domain":[-0.12,0.2],"nice":false},"axis":{"values":[-0.1,0,0.1,0.2],"format":"~g","title":["Semitendinosus velocity","(nondimensional)"]}}}},
  {"transform":[{"filter":"isValid(datum.lo)"}],"mark":{"type":"rule","strokeWidth":1.6,"clip":true},"encoding":{"y":{"field":"lo","type":"quantitative","axis":{"values":[-0.1,0,0.1,0.2],"format":"~g","title":["Semitendinosus velocity","(nondimensional)"]}},"y2":{"field":"hi"}}}
 ]},
{"width":201,"height":224,"transform":[{"filter":"datum.p=='P6'"}],
 "encoding":{"x":{"field":"x","type":"quantitative","scale":{"domain":[0,100],"nice":false},"axis":{"values":[0,50,100],"title":"% gait cycle"}},
  "color":{"field":"s","type":"nominal","scale":{"domain":["TD","SPAS0","SPAS1","SPAS2"],"range":["#1c991c","#1414d4","#f8985a","#da1f1f"]}}},
 "layer":[
  {"mark":{"type":"line","interpolate":"monotone","strokeWidth":2.8,"clip":true},"encoding":{"y":{"field":"y","type":"quantitative","scale":{"domain":[-0.12,0.2],"nice":false},"axis":{"values":[-0.1,0,0.1,0.2],"format":"~g","title":null}}}},
  {"transform":[{"filter":"isValid(datum.lo)"}],"mark":{"type":"rule","strokeWidth":1.6,"clip":true},"encoding":{"y":{"field":"lo","type":"quantitative","axis":{"values":[-0.1,0,0.1,0.2],"format":"~g","title":null}},"y2":{"field":"hi"}}}
 ]},
{"width":201,"height":224,"transform":[{"filter":"datum.p=='P7'"}],
 "encoding":{"x":{"field":"x","type":"quantitative","scale":{"domain":[0,100],"nice":false},"axis":{"values":[0,50,100],"title":"% gait cycle"}},
  "color":{"field":"s","type":"nominal","scale":{"domain":["TD","SPAS0","SPAS1","SPAS2"],"range":["#1c991c","#1414d4","#f8985a","#da1f1f"]}}},
 "layer":[
  {"mark":{"type":"line","interpolate":"monotone","strokeWidth":2.8,"clip":true},"encoding":{"y":{"field":"y","type":"quantitative","scale":{"domain":[-0.12,0.2],"nice":false},"axis":{"values":[-0.1,0,0.1,0.2],"format":"~g","title":null}}}},
  {"transform":[{"filter":"isValid(datum.lo)"}],"mark":{"type":"rule","strokeWidth":1.6,"clip":true},"encoding":{"y":{"field":"lo","type":"quantitative","axis":{"values":[-0.1,0,0.1,0.2],"format":"~g","title":null}},"y2":{"field":"hi"}}}
 ]},
{"width":201,"height":224,"transform":[{"filter":"datum.p=='P8'"}],
 "encoding":{"x":{"field":"x","type":"quantitative","scale":{"domain":[0,100],"nice":false},"axis":{"values":[0,50,100],"title":"% gait cycle"}},
  "color":{"field":"s","type":"nominal","scale":{"domain":["TD","SPAS0","SPAS1","SPAS2"],"range":["#1c991c","#1414d4","#f8985a","#da1f1f"]}}},
 "layer":[
  {"mark":{"type":"line","interpolate":"monotone","strokeWidth":2.8,"clip":true},"encoding":{"y":{"field":"y","type":"quantitative","scale":{"domain":[-0.12,0.2],"nice":false},"axis":{"values":[-0.1,0,0.1,0.2],"format":"~g","title":null}}}},
  {"transform":[{"filter":"isValid(datum.lo)"}],"mark":{"type":"rule","strokeWidth":1.6,"clip":true},"encoding":{"y":{"field":"lo","type":"quantitative","axis":{"values":[-0.1,0,0.1,0.2],"format":"~g","title":null}},"y2":{"field":"hi"}}}
 ]}
],
"config": {
 "view": {"stroke": null},
 "font": "Liberation Sans",
 "axis": {"grid": false, "domainColor": "#555555", "domainWidth": 1.2, "tickColor": "#555555", "tickWidth": 1.2, "tickSize": -3, "labelFont": "Liberation Sans", "labelFontSize": 16, "labelColor": "#1a1a1a", "titleFont": "Liberation Sans", "titleFontSize": 20, "titleFontWeight": "normal", "titleColor": "#1a1a1a", "titleLineHeight": 24},
 "axisX": {"labelPadding": 15, "labelFlush": false, "titlePadding": 6},
 "axisY": {"labelPadding": 10, "titlePadding": 12},
 "title": {"font": "Liberation Sans", "fontSize": 17.5, "fontWeight": "normal", "color": "#1a1a1a", "anchor": "start", "frame": "group", "dx": 11, "baseline": "alphabetic", "offset": -3},
 "legend": {"orient": "none", "legendX": 46, "legendY": 308, "title": null, "symbolType": "M-5,0H5", "symbolSize": 196, "symbolStrokeWidth": 3, "labelFont": "Liberation Sans", "labelFontSize": 16, "labelColor": "#1a1a1a", "labelOffset": 29, "rowPadding": 5, "padding": 0}
}
}
